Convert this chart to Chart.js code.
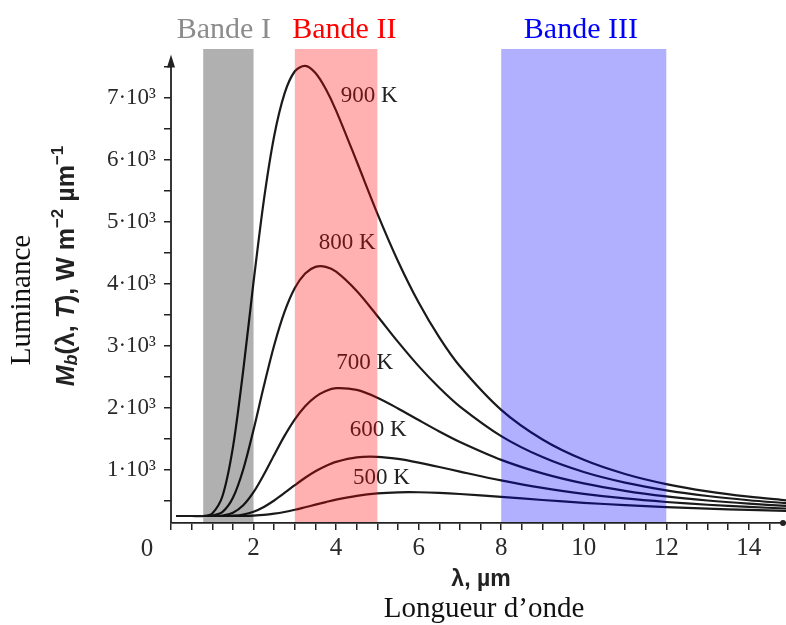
<!DOCTYPE html>
<html>
<head>
<meta charset="utf-8">
<script src="https://cdn.jsdelivr.net/npm/chart.js@4.4.0/dist/chart.umd.min.js"></script>
<style>
  html, body { margin: 0; padding: 0; background: #fff; }
  #wrap { width: 786px; height: 625px; }
</style>
</head>
<body>
<div id="wrap"><canvas id="chart" width="786" height="625"></canvas></div>
<script>
// wavelengths (µm) shared by every curve
var lambda = [0.13, 0.5, 0.8, 1, 1.25, 1.5, 1.75, 2, 2.25, 2.5, 2.75, 3, 3.25, 3.5, 3.75, 4, 4.5, 5, 5.5, 6, 6.5, 7, 8, 9, 10, 11, 12, 13, 14, 14.9];

// luminance, W m-2 µm-1
var t900 = [258, 258, 258, 299, 585, 1365, 2608, 4033, 5353, 6387, 7071, 7431, 7518, 7403, 7145, 6797, 5975, 5136, 4368, 3701, 3139, 2673, 1970, 1492, 1164, 936, 773, 656, 570, 511];
var t800 = [258, 258, 258, 264, 324, 551, 1008, 1648, 2354, 3011, 3549, 3935, 4170, 4276, 4277, 4198, 3887, 3484, 3066, 2675, 2326, 2023, 1547, 1208, 967, 796, 672, 580, 512, 465];
var t700 = [258, 258, 258, 258, 266, 311, 431, 642, 927, 1243, 1550, 1817, 2029, 2180, 2275, 2319, 2291, 2166, 1993, 1805, 1621, 1451, 1163, 945, 783, 663, 574, 508, 457, 421];
var t600 = [258, 258, 258, 258, 258, 263, 282, 327, 404, 508, 629, 755, 875, 980, 1065, 1131, 1203, 1212, 1178, 1119, 1049, 974, 832, 711, 616, 541, 484, 439, 404, 379];
var t500 = [258, 258, 258, 258, 258, 258, 258, 264, 275, 295, 323, 358, 399, 441, 482, 521, 582, 622, 640, 641, 631, 613, 566, 516, 471, 433, 401, 377, 356, 340];

var curveNames = ['900 K', '800 K', '700 K', '600 K', '500 K'];
var curveLabelX = [4.8, 4.27, 4.69, 5.02, 5.1];
var curveLabelY = [7030, 4660, 2725, 1645, 870];

// spectral bands
var bandNames = ['Bande I', 'Bande II', 'Bande III'];
var bandFrom = [0.78, 3, 8];
var bandTo = [2, 5, 12];
var bandLabelAt = [1.28, 4.2, 9.93];
var bandFill = ['rgba(0,0,0,0.31)', 'rgba(255,0,0,0.31)', 'rgba(0,0,255,0.31)'];
var bandInk = ['#8c8c8c', '#ff0000', '#0000ff'];

// ticks
var xTicks = [0, 0.5, 1, 1.5, 2, 2.5, 3, 3.5, 4, 4.5, 5, 5.5, 6, 6.5, 7, 7.5, 8, 8.5, 9, 9.5, 10, 10.5, 11, 11.5, 12, 12.5, 13, 13.5, 14, 14.5];
var xTickLabels = [2, 4, 6, 8, 10, 12, 14];
var yTicks = [500, 1000, 1500, 2000, 2500, 3000, 3500, 4000, 4500, 5000, 5500, 6000, 6500, 7000, 7500];
var yTickLabels = [1000, 2000, 3000, 4000, 5000, 6000, 7000];

var ink = '#222';
var serif = '"Liberation Serif", "DejaVu Serif", serif';
var sans = '"Liberation Sans", Arial, sans-serif';

function toPoints(values) {
  return values.map(function(v, i) { return {x: lambda[i], y: v}; });
}

var series = [t900, t800, t700, t600, t500];
var datasets = series.map(function(s, i) {
  return {
    label: curveNames[i],
    data: toPoints(s),
    borderColor: '#1a1a1a',
    borderWidth: 2.2,
    pointRadius: 0,
    fill: false,
    tension: 0.3
  };
});

var decorations = {
  id: 'decorations',
  afterDatasetsDraw: function(chart) {
    var ctx = chart.ctx, xs = chart.scales.x, ys = chart.scales.y, area = chart.chartArea;
    ctx.save();
    // curve labels, drawn under the bands
    ctx.fillStyle = ink;
    ctx.font = '23px ' + serif;
    ctx.textAlign = 'center';
    ctx.textBaseline = 'middle';
    curveNames.forEach(function(name, i) {
      ctx.fillText(name, xs.getPixelForValue(curveLabelX[i]), ys.getPixelForValue(curveLabelY[i]));
    });
    // translucent bands on top of the curves
    bandNames.forEach(function(name, i) {
      var x0 = xs.getPixelForValue(bandFrom[i]);
      var x1 = xs.getPixelForValue(bandTo[i]);
      ctx.fillStyle = bandFill[i];
      ctx.fillRect(x0, area.top, x1 - x0, area.bottom - area.top - 1);
    });
    ctx.restore();
  },
  afterDraw: function(chart) {
    var ctx = chart.ctx, xs = chart.scales.x, ys = chart.scales.y, area = chart.chartArea;
    ctx.save();
    // band names above the plot
    ctx.font = '30px ' + serif;
    ctx.textAlign = 'center';
    ctx.textBaseline = 'alphabetic';
    bandNames.forEach(function(name, i) {
      ctx.fillStyle = bandInk[i];
      ctx.fillText(name, xs.getPixelForValue(bandLabelAt[i]), 38);
    });

    // y axis with arrow
    var ax = xs.getPixelForValue(0);
    var tip = ys.getPixelForValue(7700);
    ctx.strokeStyle = ink;
    ctx.fillStyle = ink;
    ctx.lineWidth = 1.8;
    ctx.beginPath();
    ctx.moveTo(ax, area.bottom);
    ctx.lineTo(ax, tip + 6);
    ctx.stroke();
    ctx.beginPath();
    ctx.moveTo(ax, tip);
    ctx.lineTo(ax - 4, tip + 13);
    ctx.lineTo(ax + 4, tip + 13);
    ctx.closePath();
    ctx.fill();

    // dot at the end of the x axis
    ctx.beginPath();
    ctx.arc(area.right - 3, area.bottom, 3, 0, Math.PI * 2);
    ctx.fill();

    // origin label sits left of the axis
    ctx.font = '25px ' + serif;
    ctx.fillStyle = '#2a2a2a';
    ctx.textBaseline = 'middle';
    ctx.fillText('0', 147, 549);

    // x titles
    ctx.fillStyle = ink;
    ctx.font = 'bold 23px ' + sans;
    ctx.fillText('λ, µm', 481, 580);
    ctx.font = '29px ' + serif;
    ctx.fillStyle = '#111';
    ctx.fillText('Longueur d\u2019onde', 484, 609);

    // y titles
    ctx.save();
    ctx.translate(22, 300);
    ctx.rotate(-Math.PI / 2);
    ctx.fillText('Luminance', 0, 0);
    ctx.restore();

    var pieces = [
      {t: 'M', f: 'italic bold 25px ', dy: 0},
      {t: 'b', f: 'italic bold 18px ', dy: 5},
      {t: '(λ, ', f: 'bold 25px ', dy: 0},
      {t: 'T', f: 'italic bold 25px ', dy: 0},
      {t: '), W m', f: 'bold 25px ', dy: 0},
      {t: '\u22122', f: 'bold 17px ', dy: -9},
      {t: ' µm', f: 'bold 25px ', dy: 0},
      {t: '\u22121', f: 'bold 17px ', dy: -9}
    ];
    var total = 0;
    pieces.forEach(function(p) { ctx.font = p.f + sans; p.w = ctx.measureText(p.t).width; total += p.w; });
    ctx.save();
    ctx.translate(67, 266);
    ctx.rotate(-Math.PI / 2);
    ctx.textAlign = 'left';
    ctx.fillStyle = ink;
    var cx = -total / 2;
    pieces.forEach(function(p) {
      ctx.font = p.f + sans;
      ctx.fillText(p.t, cx, p.dy);
      cx += p.w;
    });
    ctx.restore();
    ctx.restore();
  }
};

new Chart(document.getElementById('chart'), {
  type: 'line',
  data: {datasets: datasets},
  options: {
    responsive: false,
    animation: false,
    layout: {padding: {top: 49, right: 0, left: 0, bottom: 0}},
    plugins: {legend: {display: false}, tooltip: {enabled: false}},
    scales: {
      x: {
        type: 'linear',
        min: 0,
        max: 14.9,
        afterBuildTicks: function(scale) { scale.ticks = xTicks.map(function(v) { return {value: v}; }); },
        afterFit: function(scale) { scale.height = 102; },
        border: {display: true, color: ink, width: 1.8},
        grid: {drawOnChartArea: false, color: ink, tickLength: 7, lineWidth: 1.5},
        ticks: {
          autoSkip: false,
          maxRotation: 0,
          padding: 3,
          color: '#2a2a2a',
          font: {family: serif, size: 25},
          callback: function(v) { return xTickLabels.indexOf(v) >= 0 ? String(v) : ''; }
        }
      },
      y: {
        type: 'linear',
        min: 145,
        max: 7790,
        afterBuildTicks: function(scale) { scale.ticks = yTicks.map(function(v) { return {value: v}; }); },
        afterFit: function(scale) { scale.width = 171; },
        border: {display: false},
        grid: {drawOnChartArea: false, color: ink, tickLength: 7, lineWidth: 1.5},
        ticks: {
          autoSkip: false,
          padding: 8,
          color: '#2a2a2a',
          font: {family: serif, size: 23},
          callback: function(v) { return yTickLabels.indexOf(v) >= 0 ? (v / 1000) + '·10³' : ''; }
        }
      }
    }
  },
  plugins: [decorations]
});
</script>
</body>
</html>
